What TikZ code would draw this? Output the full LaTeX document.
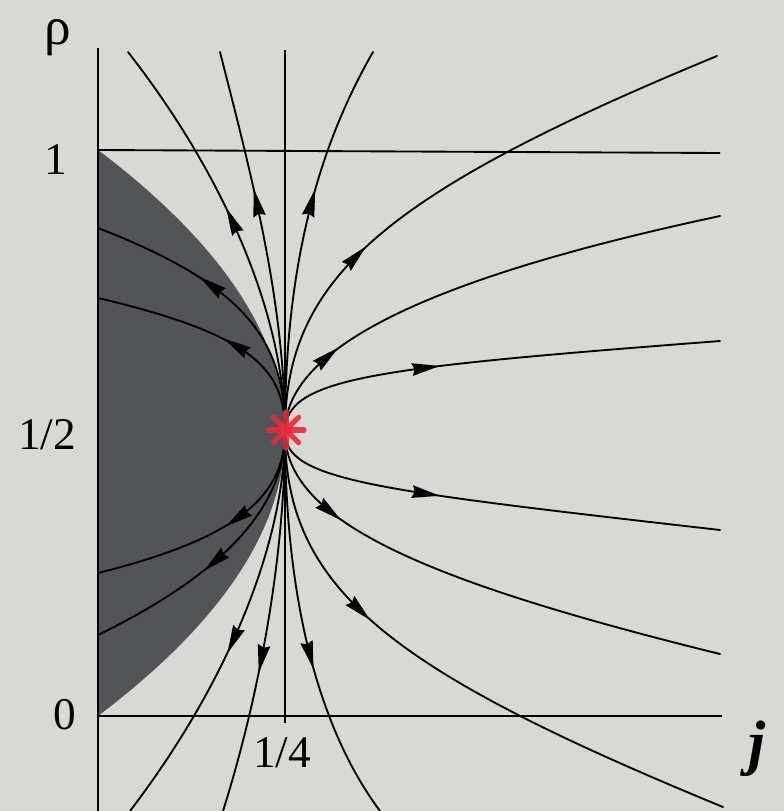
\documentclass[tikz,border=0pt]{standalone}
\usepackage{fontspec}
\setmainfont{Liberation Serif}
\definecolor{bg}{RGB}{216,217,212}
\definecolor{shadegray}{RGB}{82,84,88}
\definecolor{starred}{RGB}{232,42,56}
\begin{document}
\begin{tikzpicture}[x=0.75pt,y=-0.75pt,
  flow/.style={line width=1.4pt, line cap=round},
  axisline/.style={line width=1.4pt},
  lbl/.style={inner sep=0pt, font=\fontsize{34}{36}\selectfont},
  ah/.style={pos=#1, sloped, allow upside down},
  arrowhead/.pic={\fill (10.5pt,0) -- (-10.5pt,4.8pt) -- (-8.5pt,0) -- (-10.5pt,-4.8pt) -- cycle;}
]
\fill[bg] (0,0) rectangle (784,811);
\useasboundingbox (0,0) rectangle (784,811);

% shaded region j < rho(1-rho)
\fill[shadegray] (98,150) .. controls (347.3,338.7) and (347.3,527.3) .. (98,716) -- cycle;

% axes and grid lines
\coordinate (F) at (285,432);
\coordinate (Atop) at (98,48);
\coordinate (Abot) at (98,811);
\coordinate (R1l) at (98,150);
\coordinate (R1r) at (720,153);
\coordinate (R0l) at (98,716);
\coordinate (R0r) at (722,716);
\coordinate (Vt) at (285,50);
\coordinate (Vb) at (285,723);
\draw[axisline] (Atop) -- (Abot);
\draw[axisline] (R1l) -- (R1r);
\draw[axisline] (R0l) -- (R0r);
\draw[axisline] (Vt) -- (Vb);

% end points of flow lines
\coordinate (Ea) at (128,52);
\coordinate (Eb) at (220,52);
\coordinate (Ec) at (373,52);
\coordinate (Ef) at (717,56);
\coordinate (Eg) at (720,216);
\coordinate (Eh) at (720,341);
\coordinate (Ei) at (720,530);
\coordinate (Ej) at (720,654);
\coordinate (Ek) at (723,807);
\coordinate (El) at (380,811);
\coordinate (Em) at (223,811);
\coordinate (En) at (130,811);
\coordinate (Eo) at (98,573);
\coordinate (Ep) at (98,635);
\coordinate (Ed) at (98,228);
\coordinate (Ee) at (98,298);

% flow lines (all leave the fixed point)
\draw[flow] (F) .. controls (285,320) and (228,180) .. (Ea) pic[ah=0.57]{arrowhead};
\draw[flow] (F) .. controls (285,300) and (250,170) .. (Eb) pic[ah=0.59]{arrowhead};
\draw[flow] (F) .. controls (285,300) and (305,170) .. (Ec) pic[ah=0.59]{arrowhead};
\draw[flow] (F) .. controls (285,280) and (380,195) .. (Ef) pic[ah=0.45]{arrowhead};
\draw[flow] (F) .. controls (285,350) and (420,280) .. (Eg) pic[ah=0.32]{arrowhead};
\draw[flow] (F) .. controls (285,378) and (370,368) .. (Eh) pic[ah=0.62]{arrowhead};
\draw[flow] (F) .. controls (285,480) and (370,490) .. (Ei) pic[ah=0.62]{arrowhead};
\draw[flow] (F) .. controls (285,520) and (420,580) .. (Ej) pic[ah=0.33]{arrowhead};
\draw[flow] (F) .. controls (285,590) and (390,670) .. (Ek) pic[ah=0.45]{arrowhead};
\draw[flow] (F) .. controls (285,560) and (305,710) .. (El) pic[ah=0.56]{arrowhead};
\draw[flow] (F) .. controls (285,560) and (258,700) .. (Em) pic[ah=0.58]{arrowhead};
\draw[flow] (F) .. controls (285,540) and (230,680) .. (En) pic[ah=0.57]{arrowhead};
\draw[flow] (F) .. controls (285,500) and (230,540) .. (Eo) pic[ah=0.52]{arrowhead};
\draw[flow] (F) .. controls (285,520) and (200,585) .. (Ep) pic[ah=0.57]{arrowhead};
\draw[flow] (F) .. controls (285,340) and (245,285) .. (Ed) pic[ah=0.67]{arrowhead};
\draw[flow] (F) .. controls (285,370) and (255,335) .. (Ee) pic[ah=0.58]{arrowhead};

% fixed point
\node[inner sep=0pt, minimum size=1pt] (star) at (286,430) {};
\foreach \a in {0,45,...,315}
  \draw[starred, line width=3.8pt, line cap=round, opacity=0.9] (star.center) -- ++(\a:18);

% labels
\node[lbl, font=\fontsize{40}{42}\selectfont] (rho) at (58,38) {ρ};
\node[lbl] (l1) at (56,160) {1};
\node[lbl] (lhalf) at (47,435) {1/2};
\node[lbl] (l0) at (65,715) {0};
\node[lbl] (lq) at (282,753) {1/4};
\node[lbl, font=\fontsize{46}{48}\selectfont\bfseries\itshape] (lj) at (757,749) {j};
\end{tikzpicture}
\end{document}
